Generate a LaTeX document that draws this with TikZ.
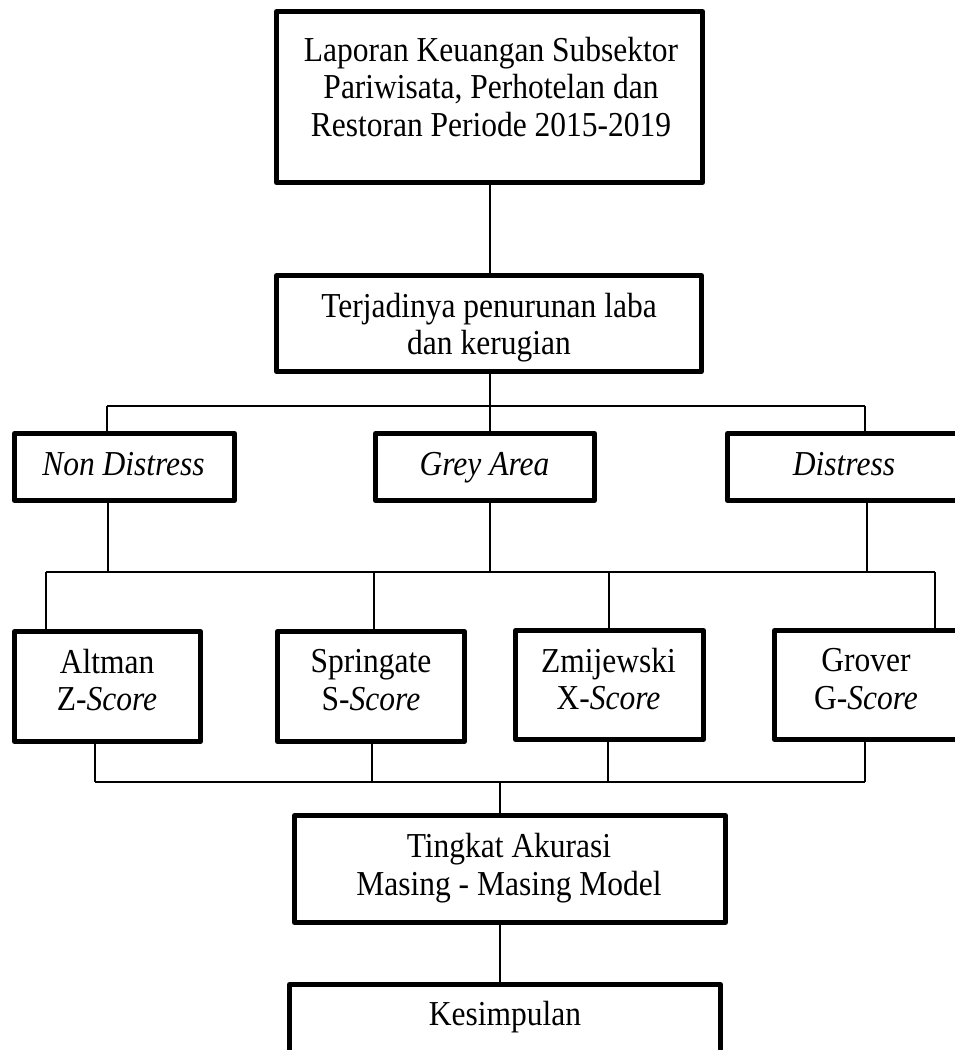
\documentclass[tikz,border=0pt]{standalone}
\usepackage{fontspec}
\setmainfont{Liberation Serif}[FakeStretch=0.9]
\begin{document}
\begin{tikzpicture}[x=1pt,y=-1pt,
  box/.style={draw, line width=5pt, line join=round, inner sep=0pt, outer sep=0pt},
  txt/.style={align=center, inner sep=0pt, font=\fontsize{35}{37.5}\selectfont},
  conn/.style={draw, line width=1.7pt}]
\useasboundingbox (0,0) rectangle (955,1050);
\clip (0,0) rectangle (955,1050);
\fill[white] (0,0) rectangle (955,1050);

% boxes
\node[box, minimum width=426pt, minimum height=171pt] (lap) at (489.5,97) {};
\node[box, minimum width=425pt, minimum height=96pt] (terj) at (489,323.5) {};
\node[box, minimum width=220pt, minimum height=67pt] (nd) at (124.5,467) {};
\node[box, minimum width=219pt, minimum height=67pt] (ga) at (485,467) {};
\node[box, minimum width=233pt, minimum height=67pt] (di) at (844,467) {};
\node[box, minimum width=186pt, minimum height=110pt] (alt) at (107.5,686.5) {};
\node[box, minimum width=187pt, minimum height=110pt] (spr) at (371,686.5) {};
\node[box, minimum width=188pt, minimum height=109pt] (zmi) at (609.5,685) {};
\node[box, minimum width=185pt, minimum height=109pt] (gro) at (867,685) {};
\node[box, minimum width=431pt, minimum height=107pt] (tin) at (510,869) {};
\node[box, minimum width=431pt, minimum height=107pt] (kes) at (505,1038) {};

% texts
\node[txt] (lapT) at (491,87) {Laporan Keuangan Subsektor\\Pariwisata, Perhotelan dan\\Restoran Periode 2015-2019};
\node[txt] (terjT) at (489,327.5) {Terjadinya penurunan laba\\dan kerugian};
\node[txt] (ndT) at (123.5,464) {\textit{Non Distress}};
\node[txt] (gaT) at (484.5,467.5) {\textit{Grey Area}};
\node[txt] (diT) at (844,464) {\textit{Distress}};
\node[txt] (altT) at (107,680) {Altman\\Z-\textit{Score}};
\node[txt] (sprT) at (371,680) {Springate\\S-\textit{Score}};
\node[txt] (zmiT) at (608.5,679) {Zmijewski\\X-\textit{Score}};
\node[txt] (groT) at (866,679) {Grover\\G-\textit{Score}};
\node[txt] (tinT) at (509,868) {Tingkat Akurasi\\Masing - Masing Model};
\node[txt] (kesT) at (505,1017.5) {Kesimpulan};

% bus coordinates
\coordinate (b1L) at (107,406);
\coordinate (b1M) at (490,406);
\coordinate (b1R) at (865,406);
\coordinate (u1) at (108,572);
\coordinate (u2) at (490,572);
\coordinate (u3) at (867,572);
\coordinate (d1) at (46,572);
\coordinate (d2) at (374,572);
\coordinate (d3) at (609,572);
\coordinate (d4) at (935,572);
\coordinate (e1) at (95,782);
\coordinate (e2) at (372,782);
\coordinate (e3) at (608,782);
\coordinate (e4) at (865,782);
\coordinate (eM) at (500,782);

% connectors
\draw[conn] (lap.south -| b1M) -- (terj.north -| b1M);
\draw[conn] (terj.south -| b1M) -- (b1M);
\draw[conn] (b1L) -- (b1R);
\draw[conn] (b1L) -- (b1L |- nd.north);
\draw[conn] (b1M) -- (b1M |- ga.north);
\draw[conn] (b1R) -- (b1R |- di.north);

\draw[conn] (nd.south -| u1) -- (u1);
\draw[conn] (ga.south -| u2) -- (u2);
\draw[conn] (di.south -| u3) -- (u3);
\draw[conn] (d1) -- (d4);
\draw[conn] (d1) -- (d1 |- alt.north);
\draw[conn] (d2) -- (d2 |- spr.north);
\draw[conn] (d3) -- (d3 |- zmi.north);
\draw[conn] (d4) -- (d4 |- gro.north);

\draw[conn] (alt.south -| e1) -- (e1);
\draw[conn] (spr.south -| e2) -- (e2);
\draw[conn] (zmi.south -| e3) -- (e3);
\draw[conn] (gro.south -| e4) -- (e4);
\draw[conn] (e1) -- (e4);
\draw[conn] (eM) -- (eM |- tin.north);
\draw[conn] (tin.south -| eM) -- (kes.north -| eM);
\end{tikzpicture}
\end{document}
